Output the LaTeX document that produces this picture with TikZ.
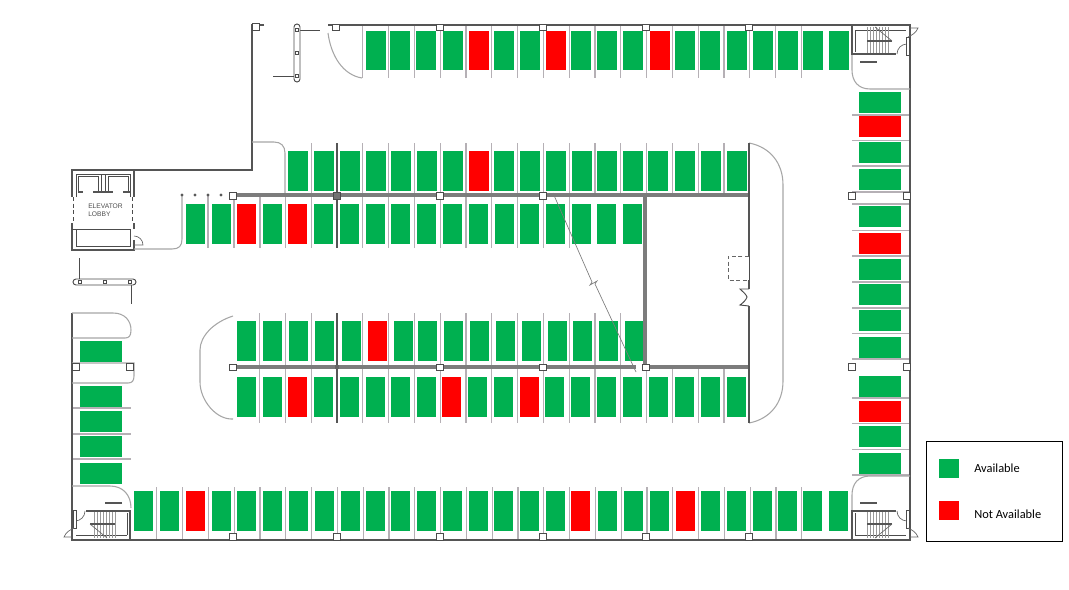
\documentclass[tikz,border=0pt]{standalone}
\usepackage{fontspec}
\setmainfont{Carlito}
\newfontfamily\planfont{Liberation Sans}
\definecolor{stallgreen}{HTML}{00B050}
\definecolor{stallred}{HTML}{FF0000}
\definecolor{wallgray}{HTML}{555555}
\definecolor{beamgray}{HTML}{7C7C7C}
\definecolor{linegray}{HTML}{B5B0B5}
% one stairwell, drawn as it stands in the upper right corner
\newcommand{\stairwell}{
  \draw[wall, line width=1pt] (852,25) -- (852,54) -- (896,54);
  \draw[thinwall] (855,30) -- (906,30);
  \draw[thinwall] (855,30) -- (855,52);
  \foreach \t in {867,870,...,890} \draw[tread] (\t,27) -- (\t,53);
  \draw[wall, line width=1.4pt] (867,41) -- (892,41);
  \draw[wall, line width=1pt] (860,62) -- (877,62);
  \draw[tread, draw=black!60] (875,27) -- (892,41);
  \draw[tread, draw=black!60] (897,54) arc (180:270:10);
  \draw[thinwall, fill=white] (906,37) rectangle (909,55);
  \draw[tread, draw=black!60] (910,28) -- (918,28) .. controls (916,33) and (912,35) .. (908,37);
}
\begin{document}
\begin{tikzpicture}[
x=0.75pt, y=-0.75pt,
avail/.style={fill=stallgreen},
taken/.style={fill=stallred},
divider/.style={draw=linegray, line width=0.9pt},
curb/.style={draw=black!35, line width=0.8pt},
wall/.style={draw=wallgray, line width=1.8pt},
thinwall/.style={draw=black!70, line width=0.7pt},
beam/.style={draw=beamgray, line width=2.6pt},
tread/.style={draw=black!40, line width=0.5pt},
column/.style={draw=black!70, fill=white, line width=1pt, inner sep=0pt, minimum size=4.8pt},
legendtext/.style={font=\fontsize{9.3}{11}\selectfont, anchor=west, inner sep=0pt}
]
\useasboundingbox (0,0) rectangle (1069,589);
%Dividers
\foreach \x in {362.7,388.5,...,827} \draw[divider] (\x,25) -- (\x,78);
\foreach \x in {311.7,362.7,388.5,...,725} \draw[divider] (\x,143) -- (\x,195);
\foreach \x in {208,234,260,285.5,311.5,362.7,388.5,...,570} \draw[divider] (\x,195) -- (\x,248);
\foreach \x in {259.5,285.5,311.5,362.7,388.5,...,621} \draw[divider] (\x,313) -- (\x,367);
\foreach \x in {259.5,285.5,311.5,362.7,388.5,...,725} \draw[divider] (\x,367) -- (\x,423);
\foreach \x in {156.7,182.5,...,827} \draw[divider] (\x,487) -- (\x,540);
\foreach \y in {115,140.5,166,192,204,230.5,256,282,308,333.5,359,398,423.5,449.5,475} \draw[divider] (852,\y) -- (910,\y);
\foreach \y in {408,434,459} \draw[divider] (72,\y) -- (131,\y);
%Stalls
\foreach \x/\s in {366/avail,390/avail,416/avail,443/avail,469/taken,494/avail,520/avail,546/taken,571/avail,597/avail,623/avail,650/taken,675/avail,700/avail,727/avail,753/avail,778/avail,803/avail,829/avail}
  \path[\s] (\x,31) rectangle ++(19.5,39);
\foreach \x/\s in {288/avail,314/avail,340/avail,366/avail,391/avail,417/avail,443/avail,469/taken,494/avail,520/avail,546/avail,572/avail,597/avail,623/avail,648/avail,675/avail,701/avail,727/avail}
  \path[\s] (\x,151) rectangle ++(19.5,40);
\foreach \x/\s in {186/avail,212/avail,237/taken,263/avail,288/taken,314/avail,340/avail,366/avail,391/avail,417/avail,443/avail,469/avail,495/avail,520/avail,546/avail,572/avail,597/avail,623/avail}
  \path[\s] (\x,204) rectangle ++(19,40);
\foreach \x/\s in {237/avail,263/avail,289/avail,315/avail,342/avail,368/taken,394/avail,418/avail,444/avail,470/avail,496/avail,522/avail,548/avail,573/avail,599/avail,625/avail}
  \path[\s] (\x,321) rectangle ++(19,40);
\foreach \x/\s in {237/avail,263/avail,288/taken,314/avail,340/avail,366/avail,391/avail,417/avail,442/taken,468/avail,494/avail,520/taken,545/avail,571/avail,597/avail,623/avail,649/avail,675/avail,701/avail,727/avail}
  \path[\s] (\x,377) rectangle ++(19,40);
\foreach \x/\s in {134/avail,160/avail,186/taken,212/avail,237/avail,263/avail,289/avail,315/avail,341/avail,366/avail,391/avail,417/avail,443/avail,469/avail,494/avail,520/avail,546/avail,571/taken,598/avail,624/avail,650/avail,676/taken,701/avail,727/avail,753/avail,778/avail,803/avail,829/avail}
  \path[\s] (\x,491) rectangle ++(19.3,40);
\foreach \y/\s in {92/avail,116/taken,142/avail,169/avail,206/avail,233/taken,259/avail,284/avail,310/avail,337/avail,376/avail,401/taken,426/avail,453/avail}
  \path[\s] (859,\y) rectangle ++(42,21);
\foreach \y in {341,386,411,436,463}
  \path[avail] (80,\y) rectangle ++(42,21);
%Outer walls
\draw[wall] (264,25) -- (252,25) -- (252,170) -- (72,170) -- (72,197);
\draw[wall] (328,25) -- (910,25) -- (910,540) -- (72,540) -- (72,313);
\draw[wall] (72,223) -- (72,250) -- (134,250) -- (134,240);
\draw[wall] (134,170) -- (134,197);
\draw[wall] (134,223) -- (134,229);
%Ramps and curbs
\draw[curb] (749,143) .. controls (770,147) and (783,163) .. (783,185) -- (783,381) .. controls (783,403) and (770,419) .. (749,423);
\draw[curb] (233,316) .. controls (214,322) and (200,336) .. (200,350) -- (200,382) .. controls (200,400) and (216,420) .. (233,419);
\draw[curb] (252,142) -- (274,142) .. controls (281,142) and (285,146) .. (285,153) -- (285,195);
\draw[curb] (134,249) -- (172,249) .. controls (179,249) and (182,246) .. (182,239) -- (182,195);
\draw[curb] (328,33) .. controls (331,56) and (343,75) .. (362,78);
\draw[curb] (852,54) -- (852,70) .. controls (852,81) and (858,89) .. (870,89) -- (910,89);
\draw[curb] (852,511) -- (852,495) .. controls (852,484) and (858,476) .. (870,476) -- (910,476);
\draw[curb] (72,486) -- (110,486) .. controls (123,486) and (131,495) .. (131,508);
\draw[curb] (72,313) -- (113,313) .. controls (125,313) and (131,321) .. (131,330) .. controls (131,336) and (129,338) .. (125,338) -- (72,338);
\draw[curb] (72,363) -- (134,363) -- (134,376) .. controls (134,381) and (132,383) .. (128,383) -- (72,383);
%Beams
\draw[beam] (233,195) -- (645,195);
\draw[beam] (645,195) -- (749,195);
\draw[beam] (233,367) -- (636,367);
\draw[beam] (645,367) -- (749,367);
\draw[beam] (645,195) -- (645,367);
\draw[wall, line width=2.2pt] (337,143) -- (337,248);
\draw[wall, line width=2.2pt] (337,313) -- (337,423);
\draw[wall, line width=2.2pt] (749,143) -- (749,256);
\draw[wall, line width=2.2pt] (749,306) -- (749,423);
\draw[thinwall] (749,256) -- (749,280);
\draw[wall, line width=2.2pt] (749,280) -- (749,289);
\draw[thinwall] (749,289) -- (740,289) .. controls (743,292) and (746,294) .. (747,297) .. controls (746,300) and (743,303) .. (740,305) -- (749,306);
\draw[tread, densely dashed, draw=black!60] (749,256) -- (728,256) -- (728,280) -- (749,280);
\draw[draw=beamgray, line width=0.5pt] (553,193) -- (592,282) -- (590,285) -- (597,281) -- (595,284) -- (636,372);
%Columns
\foreach \x in {336,440,543,646,749} \node[column] (top\x) at (\x,27.5) {};
\foreach \x in {233,337,440,543,646,749} \node[column] (bot\x) at (\x,537) {};
\foreach \x in {233,440,543} \node[column] (up\x) at (\x,196) {};
\foreach \x in {233,440,543,646} \node[column] (low\x) at (\x,367.5) {};
\node[column, fill=black!55, minimum size=5.5pt] (upd) at (337,196) {};
\node[column, draw=none, fill=black!60, minimum size=3pt] (lowd) at (337,367) {};
\node[column] (cnrnw) at (256,27) {};
\node[column] (ease) at (852,196) {};
\node[column] (east) at (907,196) {};
\node[column] (lase) at (852,367) {};
\node[column] (last) at (907,367) {};
\node[column] (wewa) at (76,367) {};
\node[column] (wewb) at (130,367) {};
\foreach \x in {182,195,208,221} \fill[black!65] (\x,195) circle (1.6);
%Free standing pier pieces
\draw[thinwall] (297,30) -- (320,30);
\draw[thinwall] (273,76) -- (297,76);
\draw[thinwall, fill=white] (294,27) arc (180:360:3) -- (300,79) arc (0:180:3) -- cycle;
\foreach \y in {30,53,76} \node[column, minimum size=2.5pt, line width=0.7pt] (pier\y) at (297,\y) {};
\draw[thinwall] (79,258) -- (79,282);
\draw[thinwall] (131,282) -- (131,304);
\draw[thinwall, fill=white] (76,279) -- (133,279) arc (-90:90:3) -- (76,285) arc (90:270:3) -- cycle;
\foreach \x in {80,105,130} \node[column, minimum size=2.5pt, line width=0.7pt] (pil\x) at (\x,282) {};
%Elevator lobby
\draw[thinwall] (76,197) -- (76,174) -- (130,174) -- (130,197);
\draw[thinwall] (78,192) -- (78,176) -- (98,176) -- (98,192);
\draw[thinwall] (108,192) -- (108,176) -- (128,176) -- (128,192);
\draw[thinwall] (101,174) -- (101,192);
\draw[thinwall] (105,174) -- (105,192);
\draw[wall, line width=1.2pt] (78,192) -- (83,192);
\draw[wall, line width=1.2pt] (93,192) -- (113,192);
\draw[wall, line width=1.2pt] (123,192) -- (130,192);
\draw[thinwall, densely dashed] (73.5,197) -- (73.5,223);
\draw[thinwall, densely dashed] (132.5,197) -- (132.5,223);
\draw[thinwall] (76,229) rectangle (130,246);
\draw[thinwall] (72,229) -- (130,229);
\draw[tread, draw=black!60] (134,236) arc (270:360:9) -- (134,245);
\node[font=\planfont\fontsize{5}{5.5}\selectfont, text=black!70, align=left, anchor=north west, inner sep=0pt] (lobbylabel) at (88,204) {ELEVATOR\\LOBBY};
%Stairwells
\begin{scope}
\stairwell
\end{scope}
\begin{scope}[shift={(0,565)}, yscale=-1]
\stairwell
\end{scope}
\begin{scope}[shift={(982,565)}, xscale=-1, yscale=-1]
\stairwell
\end{scope}
%Legend
\draw[black, line width=0.6pt] (926,441) rectangle (1062,541);
\path[avail] (939,459) rectangle (959,478);
\path[taken] (939,501) rectangle (959,520);
\node[legendtext] (availtext) at (974,468) {Available};
\node[legendtext] (takentext) at (974,514) {Not Available};
\end{tikzpicture}
\end{document}
